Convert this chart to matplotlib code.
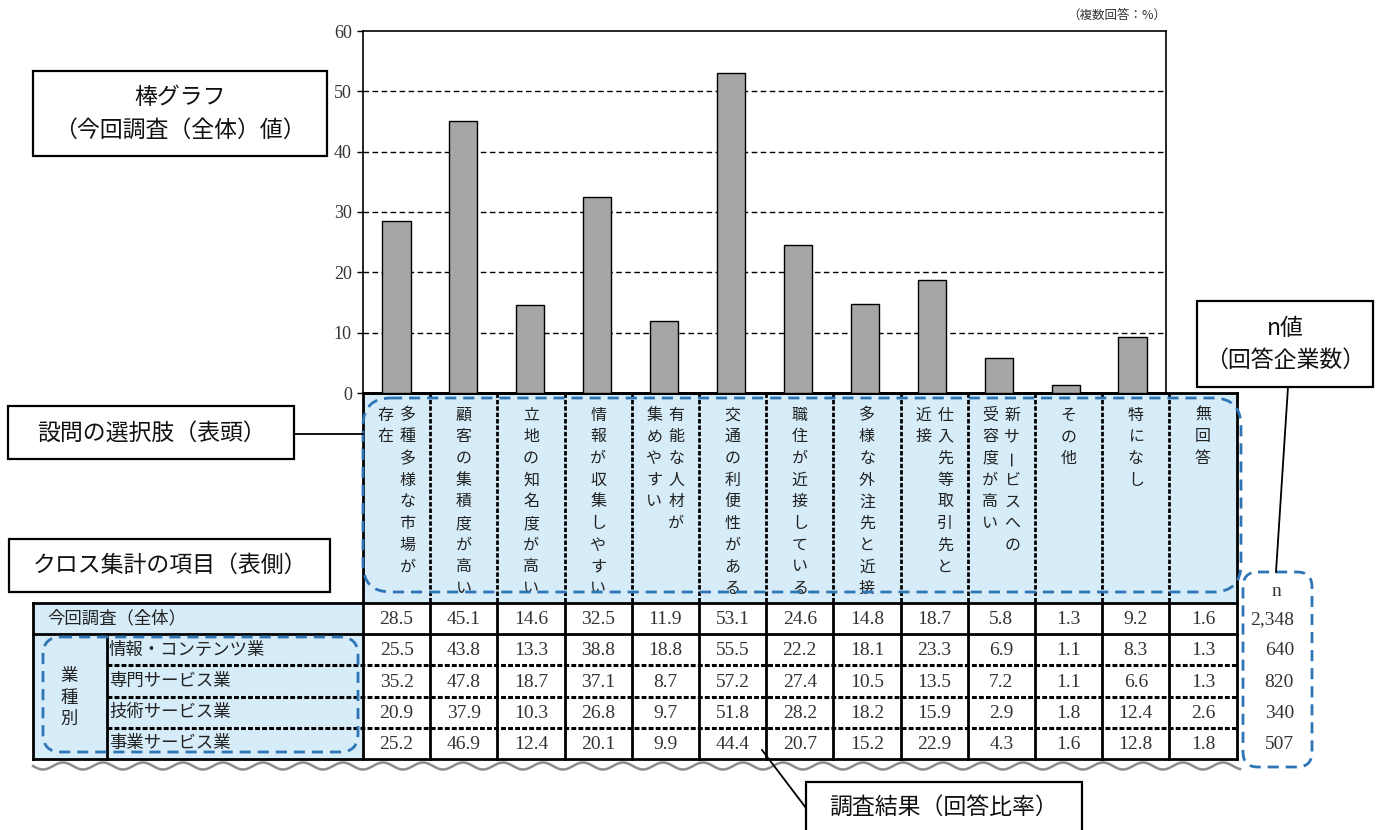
import numpy as np
import matplotlib.pyplot as plt
from matplotlib.patches import Rectangle, FancyBboxPatch

plt.rcParams['font.family'] = ['Noto Sans CJK JP', 'DejaVu Sans']

# 設問の選択肢（表頭）: '\n' で縦書きの行を区切る（右の行から）
choices = ['多種多様な市場が\n存在', '顧客の集積度が高い', '立地の知名度が高い',
           '情報が収集しやすい', '有能な人材が\n集めやすい', '交通の利便性がある',
           '職住が近接している', '多様な外注先と近接', '仕入先等取引先と\n近接',
           '新サービスへの\n受容度が高い', 'その他', '特になし', '無回答']

row_labels = ['今回調査（全体）', '情報・コンテンツ業', '専門サービス業',
              '技術サービス業', '事業サービス業']

overall = [28.5, 45.1, 14.6, 32.5, 11.9, 53.1, 24.6, 14.8, 18.7, 5.8, 1.3, 9.2, 1.6]
info = [25.5, 43.8, 13.3, 38.8, 18.8, 55.5, 22.2, 18.1, 23.3, 6.9, 1.1, 8.3, 1.3]
prof = [35.2, 47.8, 18.7, 37.1, 8.7, 57.2, 27.4, 10.5, 13.5, 7.2, 1.1, 6.6, 1.3]
tech = [20.9, 37.9, 10.3, 26.8, 9.7, 51.8, 28.2, 18.2, 15.9, 2.9, 1.8, 12.4, 2.6]
biz = [25.2, 46.9, 12.4, 20.1, 9.9, 44.4, 20.7, 15.2, 22.9, 4.3, 1.6, 12.8, 1.8]
table_values = [overall, info, prof, tech, biz]
n_values = ['2,348', '640', '820', '340', '507']

# 棒グラフは「無回答」を除く12項目
bar_values = overall[:12]

W, H = 1380, 830
fig = plt.figure(figsize=(13.8, 8.3), dpi=100)
base = fig.add_axes([0, 0, 1, 1])
base.set_xlim(0, W)
base.set_ylim(H, 0)
base.axis('off')

x0, cw, ncol = 363, 67.2, 13
hdr_top, tbl_top, rh = 393, 603, 31.2
left, div = 33, 107
right = x0 + ncol * cw
tbl_bot = tbl_top + 5 * rh
fill = '#D6ECF8'
blue = '#2E75B6'
hatch = (0, (1.6, 0.7))
numfont = 'Liberation Serif'

# 表のぬりつぶし
base.add_patch(Rectangle((x0, hdr_top), right - x0, tbl_top - hdr_top, fc=fill, ec='none', zorder=1))
base.add_patch(Rectangle((left, tbl_top), x0 - left, tbl_bot - tbl_top, fc=fill, ec='none', zorder=1))

# 罫線
for i in range(1, ncol):
    x = x0 + i * cw
    base.plot([x, x], [hdr_top, tbl_top], color='black', lw=2, ls=hatch, zorder=2)
    base.plot([x, x], [tbl_top, tbl_bot], color='black', lw=2, zorder=2)
base.plot([x0, x0], [hdr_top, tbl_bot], color='black', lw=2, zorder=2)
base.plot([right, right], [hdr_top, tbl_bot], color='black', lw=2, zorder=2)
base.plot([x0, right], [hdr_top, hdr_top], color='black', lw=2, zorder=2)
base.plot([left, right], [tbl_top, tbl_top], color='black', lw=2, zorder=2)
base.plot([left, right], [tbl_top + rh, tbl_top + rh], color='black', lw=2, zorder=2)
for r in range(2, 5):
    y = tbl_top + r * rh
    base.plot([div, right], [y, y], color='black', lw=2.2, ls=hatch, zorder=2)
base.plot([left, right], [tbl_bot, tbl_bot], color='black', lw=2, zorder=2)
base.plot([left, left], [tbl_top, tbl_bot], color='black', lw=2, zorder=2)
base.plot([div, div], [tbl_top + rh, tbl_bot], color='black', lw=2, zorder=2)

# 波線
wx = np.linspace(left, 1240, 800)
base.plot(wx, tbl_bot + 7 + 3.5 * np.sin((wx - left) / 40.0 * 2 * np.pi), color='#8C8C8C', lw=1.8, zorder=2)

# 表頭（縦書き）
step = 21.7
for i, label in enumerate(choices):
    cx = x0 + (i + 0.5) * cw
    lines = label.split('\n')
    offs = [0] if len(lines) == 1 else [11, -11]
    for line, off in zip(lines, offs):
        for k, ch in enumerate(line):
            base.text(cx + off, 415 + k * step, ch, ha='center', va='center',
                      fontsize=11.5, color='#222222',
                      rotation=90 if ch == 'ー' else 0, zorder=3)

# 表側
base.text(47, tbl_top + rh / 2, row_labels[0], ha='left', va='center', fontsize=12.5, color='#222222', zorder=3)
for r in range(1, 5):
    base.text(109, tbl_top + (r + 0.5) * rh, row_labels[r], ha='left', va='center',
              fontsize=12.5, color='#222222', zorder=3)
for k, ch in enumerate('業種別'):
    base.text(69, 676 + k * 21.5, ch, ha='center', va='center', fontsize=12.5, color='#222222', zorder=3)

# 調査結果
for r, vals in enumerate(table_values):
    cy = tbl_top + (r + 0.5) * rh
    for i, v in enumerate(vals):
        base.text(x0 + (i + 0.5) * cw, cy + 1, f'{v:.1f}', ha='center', va='center',
                  fontsize=14, family=numfont, color='#333333', zorder=3)
    base.text(1294, cy + 1, n_values[r], ha='right', va='center', fontsize=14,
              family=numfont, color='#333333', zorder=3)
base.text(1276, 591, 'n', ha='center', va='center', fontsize=14, family=numfont, color='#333333', zorder=3)

# 青い点線の枠
for (bx, by, bw, bh, rs) in [(363, 398, 878, 194, 28), (43, 637, 315, 115, 18), (1243, 572, 69, 195, 15)]:
    base.add_patch(FancyBboxPatch((bx, by), bw, bh, boxstyle=f'round,pad=0,rounding_size={rs}',
                                  fc='none', ec=blue, lw=2, ls=(0, (4, 2.5)), zorder=4))

# 吹き出し
def callout(bx, by, bw, bh, lines, ys):
    base.add_patch(Rectangle((bx, by), bw, bh, fc='white', ec='black', lw=1.6, zorder=5))
    for t, y in zip(lines, ys):
        base.text(bx + bw / 2, y, t, ha='center', va='center', fontsize=16.5, color='#111111', zorder=6)

callout(33, 71, 294, 85, ['棒グラフ', '（今回調査（全体）値）'], [98, 130])
callout(8, 406, 286, 53, ['設問の選択肢（表頭）'], [433])
callout(9, 539, 321, 53, ['クロス集計の項目（表側）'], [565])
callout(1197, 301, 176, 86, ['n値', '（回答企業数）'], [328, 360])
callout(806, 782, 276, 70, ['調査結果（回答比率）'], [807])
base.plot([294, 363], [434, 434], color='black', lw=1.3, zorder=5)
base.plot([1288, 1276], [387, 572], color='black', lw=1.3, zorder=5)
base.plot([762, 806], [750, 808], color='black', lw=1.3, zorder=5)

# 棒グラフ
chart_right = 1166
ax = fig.add_axes([x0 / W, (H - hdr_top) / H, (chart_right - x0) / W, (hdr_top - 31) / H])
ax.patch.set_alpha(0)
ax.bar(range(len(bar_values)), bar_values, width=0.42, color='#A6A6A6', edgecolor='black', lw=1, zorder=3)
for v in range(10, 60, 10):
    ax.axhline(v, color='black', lw=1, ls=(0, (4, 2.5)), zorder=1)
ax.set_xlim(-0.5, len(bar_values) - 0.5)
ax.set_ylim(0, 60)
ax.set_yticks(range(0, 61, 10))
ax.set_xticks([])
ax.tick_params(axis='y', direction='out', length=4, width=1, labelsize=13, pad=4, labelcolor='#333333')
for lab in ax.get_yticklabels():
    lab.set_family(numfont)
for s in ['left', 'top', 'right']:
    ax.spines[s].set_linewidth(1.2)
ax.spines['bottom'].set_linewidth(2)

ax.text(1.0, 1.0 + 16 / 362, '（複数回答：%）', transform=ax.transAxes, ha='right', va='center',
        fontsize=9, color='#333333')

fig.savefig('out.png', dpi=100)
